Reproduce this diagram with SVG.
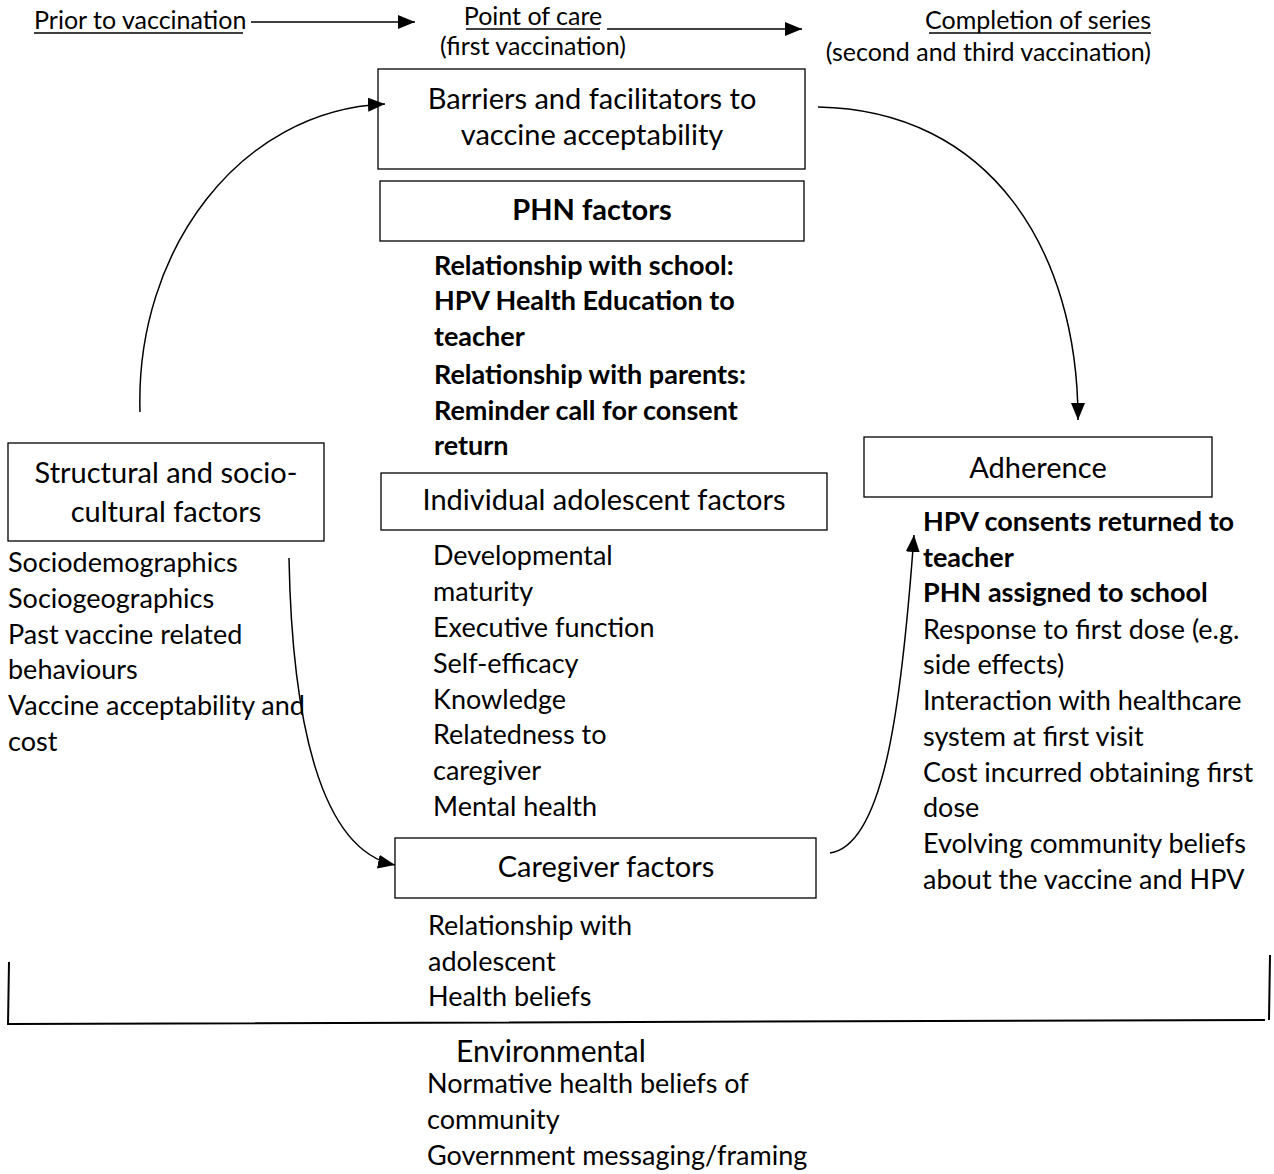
<svg xmlns="http://www.w3.org/2000/svg" width="1274" height="1174" viewBox="0 0 1274 1174">
<defs>
<style>
text{font-family:Lato,"Open Sans",sans-serif;fill:#000}
.hd{font-size:25px}
.bx{font-size:29px}
.ls{font-size:27px}
.b{font-weight:bold}
.env{font-size:30px}
rect{fill:#fff;stroke:#000;stroke-width:1.3}
.c{fill:none;stroke:#000;stroke-width:1.5}
.u{stroke:#000;stroke-width:1.3}
</style>
<marker id="ah" viewBox="0 0 10 10" refX="10" refY="5" markerWidth="17" markerHeight="14" markerUnits="userSpaceOnUse" orient="auto" preserveAspectRatio="none"><path d="M0,0L10,5L0,10z" fill="#000"/></marker>
</defs>
<g id="timeline">
<text class="hd" x="34" y="29">Prior to vaccination</text>
<line class="u" x1="34" y1="33" x2="243" y2="33"/>
<text class="hd" x="533" y="25" text-anchor="middle">Point of care</text>
<line class="u" x1="466" y1="29" x2="600" y2="29"/>
<text class="hd" x="533" y="55" text-anchor="middle">(first vaccination)</text>
<text class="hd" x="1151" y="29" text-anchor="end">Completion of series</text>
<line class="u" x1="929" y1="33" x2="1151" y2="33"/>
<text class="hd" x="1151" y="61" text-anchor="end">(second and third vaccination)</text>
</g>
<g id="barriers">
<rect x="378" y="69" width="427" height="100"/>
<text class="bx" x="592" y="109" text-anchor="middle">Barriers and facilitators to</text>
<text class="bx" x="592" y="145" text-anchor="middle">vaccine acceptability</text>
</g>
<g id="phn">
<rect x="380" y="181" width="424" height="60"/>
<text class="bx b" x="592" y="220" text-anchor="middle">PHN factors</text>
<text class="ls b" x="434"><tspan x="434" y="275">Relationship with school:</tspan><tspan x="434" y="310">HPV Health Education to</tspan><tspan x="434" y="346">teacher</tspan><tspan x="434" y="384">Relationship with parents:</tspan><tspan x="434" y="420">Reminder call for consent</tspan><tspan x="434" y="455">return</tspan></text>
</g>
<g id="individual">
<rect x="381" y="473" width="446" height="57"/>
<text class="bx" x="604" y="510" text-anchor="middle">Individual adolescent factors</text>
<text class="ls"><tspan x="433" y="565">Developmental</tspan><tspan x="433" y="601">maturity</tspan><tspan x="433" y="637">Executive function</tspan><tspan x="433" y="673">Self-efficacy</tspan><tspan x="433" y="709">Knowledge</tspan><tspan x="433" y="744">Relatedness to</tspan><tspan x="433" y="780">caregiver</tspan><tspan x="433" y="816">Mental health</tspan></text>
</g>
<g id="caregiver">
<rect x="395" y="838" width="421" height="60"/>
<text class="bx" x="606" y="877" text-anchor="middle">Caregiver factors</text>
<text class="ls"><tspan x="428" y="935">Relationship with</tspan><tspan x="428" y="971">adolescent</tspan><tspan x="428" y="1006">Health beliefs</tspan></text>
</g>
<g id="structural">
<rect x="8" y="443" width="316" height="98"/>
<text class="bx" x="166" y="483" text-anchor="middle">Structural and socio-</text>
<text class="bx" x="166" y="522" text-anchor="middle">cultural factors</text>
<text class="ls"><tspan x="8" y="572">Sociodemographics</tspan><tspan x="8" y="608">Sociogeographics</tspan><tspan x="8" y="644">Past vaccine related</tspan><tspan x="8" y="679">behaviours</tspan><tspan x="8" y="715">Vaccine acceptability and</tspan><tspan x="8" y="751">cost</tspan></text>
</g>
<g id="adherence">
<rect x="864" y="437" width="348" height="60"/>
<text class="bx" x="1038" y="478" text-anchor="middle">Adherence</text>
<text class="ls b"><tspan x="923" y="531">HPV consents returned to</tspan><tspan x="923" y="567">teacher</tspan><tspan x="923" y="602">PHN assigned to school</tspan></text>
<text class="ls"><tspan x="923" y="639">Response to first dose (e.g.</tspan><tspan x="923" y="674">side effects)</tspan><tspan x="923" y="710">Interaction with healthcare</tspan><tspan x="923" y="746">system at first visit</tspan><tspan x="923" y="782">Cost incurred obtaining first</tspan><tspan x="923" y="817">dose</tspan><tspan x="923" y="853">Evolving community beliefs</tspan><tspan x="923" y="889">about the vaccine and HPV</tspan></text>
</g>
<g id="environmental">
<path d="M9,962 L8,1025 M8,1024 L1265,1020 M1270,955 L1269,1020" fill="none" stroke="#000" stroke-width="2"/>
<text class="env" x="456" y="1062">Environmental</text>
<text class="ls"><tspan x="427" y="1093">Normative health beliefs of</tspan><tspan x="427" y="1129">community</tspan><tspan x="427" y="1165">Government messaging/framing</tspan></text>
</g>
<g id="connectors">
<line class="c" x1="251" y1="22" x2="415" y2="22" marker-end="url(#ah)"/>
<line class="c" x1="607" y1="29" x2="802" y2="29" marker-end="url(#ah)"/>
<path class="c" d="M140,412 C135,250 240,110 385,104" marker-end="url(#ah)"/>
<path class="c" d="M818,107 C990,110 1078,250 1078,420" marker-end="url(#ah)"/>
<path class="c" d="M289,558 C292,720 320,850 395,865" marker-end="url(#ah)"/>
<path class="c" d="M830,853 C885,845 902,700 914,535" marker-end="url(#ah)"/>
</g>
</svg>
